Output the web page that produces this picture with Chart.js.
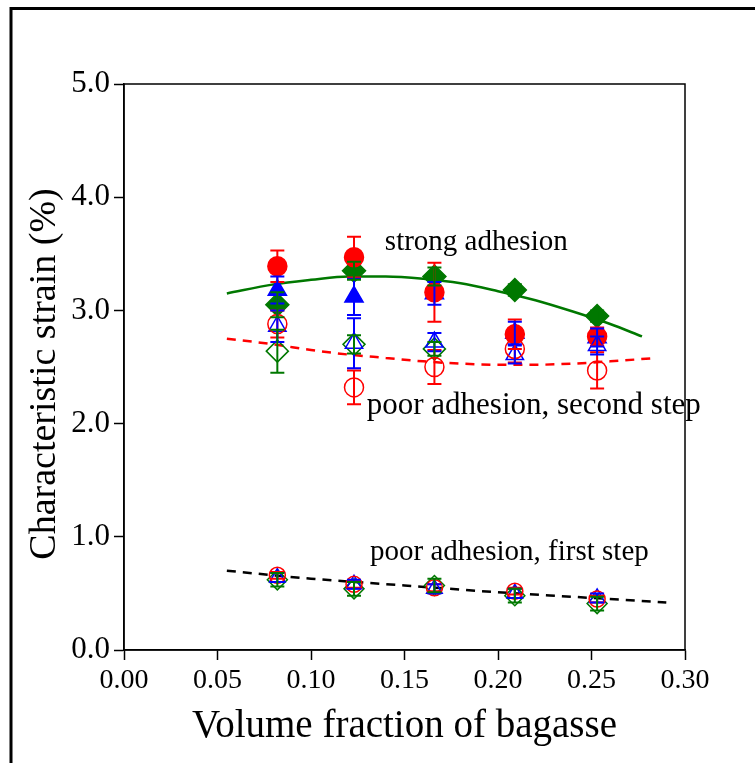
<!DOCTYPE html>
<html>
<head>
<meta charset="utf-8">
<script src="https://cdn.jsdelivr.net/npm/chart.js@4.4.1/dist/chart.umd.min.js"></script>
<style>
  html, body { margin: 0; padding: 0; background: #fff; }
  #wrap { width: 755px; height: 763px; position: relative; }
</style>
</head>
<body>
<div id="wrap"><canvas id="c" width="755" height="763"></canvas></div>
<script>
// ---- data ----
const fractions = [0.082, 0.123, 0.166, 0.209, 0.253];

// strong adhesion (filled markers)
const strongCircle   = [3.39, 3.47, 3.16, 2.79, 2.77];
const strongCircleErr = [0.14, 0.18, 0.26, 0.13, 0.08];
const strongTriangle = [3.18, 3.12, 3.15, 2.80, 2.76];
const strongTriangleErr = [0.12, 0.16, 0.10, 0.10, 0.08];
const strongDiamond  = [3.05, 3.35, 3.30, 3.18, 2.95];
const strongDiamondErr = [0.11, 0.08, 0.08, 0.05, 0.05];

// poor adhesion, second step (open markers)
const secondCircle   = [2.88, 2.32, 2.50, 2.66, 2.47];
const secondCircleErr = [0.12, 0.15, 0.15, 0.12, 0.16];
const secondTriangle = [2.86, 2.71, 2.72, 2.61, 2.69];
const secondTriangleErr = [0.14, 0.22, 0.08, 0.08, 0.08];
const secondDiamond  = [2.64, 2.70, 2.66, null, null];
const secondDiamondErr = [0.19, 0.08, 0.06, null, null];

// poor adhesion, first step (open markers)
const firstCircle    = [0.66, 0.58, 0.55, 0.52, 0.45];
const firstCircleErr = [0.03, 0.03, 0.03, 0.03, 0.03];
const firstTriangle  = [0.64, 0.58, 0.54, 0.50, 0.46];
const firstTriangleErr = [0.04, 0.04, 0.04, 0.04, 0.04];
const firstDiamond   = [0.62, 0.54, 0.57, 0.48, 0.41];
const firstDiamondErr = [0.06, 0.06, 0.06, 0.06, 0.06];

// fitted curves
const strongFitX = [0.055, 0.08, 0.10, 0.12, 0.14, 0.16, 0.18, 0.20, 0.22, 0.24, 0.26, 0.277];
const strongFitY = [3.15, 3.23, 3.27, 3.30, 3.30, 3.28, 3.24, 3.17, 3.09, 2.99, 2.88, 2.77];
const secondFitX = [0.055, 0.08, 0.10, 0.12, 0.14, 0.16, 0.18, 0.20, 0.22, 0.24, 0.26, 0.285];
const secondFitY = [2.75, 2.70, 2.65, 2.61, 2.58, 2.55, 2.53, 2.52, 2.52, 2.53, 2.55, 2.58];
const firstFitX = [0.055, 0.10, 0.15, 0.20, 0.25, 0.29];
const firstFitY = [0.70, 0.63, 0.57, 0.51, 0.46, 0.42];

const xTicks = [0.00, 0.05, 0.10, 0.15, 0.20, 0.25, 0.30];
const yTicks = [0.0, 1.0, 2.0, 3.0, 4.0, 5.0];

const yTitle = 'Characteristic strain (%)';
const annotations = [
  { text: 'strong adhesion', x: 0.1395, y: 3.6 },
  { text: 'poor adhesion, second step', x: 0.1298, y: 2.16 },
  { text: 'poor adhesion, first step', x: 0.1316, y: 0.865 }
];

// ---- build ----
const RED = '#ff0000', BLUE = '#0000ff', GREEN = '#007800';
const FONT = "'Liberation Serif', 'Times New Roman', serif";

function pts(xs, ys) { return xs.map((x, i) => ({ x: x, y: ys[i] })); }

function markerSet(ys, errs, color, style, filled, radius) {
  return {
    type: 'scatter',
    data: pts(fractions, ys),
    errors: errs,
    borderColor: color,
    backgroundColor: filled ? color : 'rgba(0,0,0,0)',
    pointStyle: style,
    pointRadius: radius,
    pointHoverRadius: radius,
    pointBorderWidth: 1.5,
    showLine: false
  };
}
function fitSet(xs, ys, color, dash) {
  return {
    type: 'line',
    data: pts(xs, ys),
    borderColor: color,
    borderWidth: 2.5,
    borderDash: dash,
    pointRadius: 0,
    fill: false,
    tension: 0.4,
    cubicInterpolationMode: 'monotone',
    order: 10
  };
}

const datasets = [
  fitSet(strongFitX, strongFitY, GREEN, []),
  fitSet(secondFitX, secondFitY, RED, [9, 7]),
  fitSet(firstFitX, firstFitY, '#000000', [9, 7]),
  markerSet(secondCircle, secondCircleErr, RED, 'circle', false, 9.5),
  markerSet(secondTriangle, secondTriangleErr, BLUE, 'triangle', false, 10),
  markerSet(secondDiamond, secondDiamondErr, GREEN, 'rectRot', false, 11),
  markerSet(firstCircle, firstCircleErr, RED, 'circle', false, 8),
  markerSet(firstTriangle, firstTriangleErr, BLUE, 'triangle', false, 9),
  markerSet(firstDiamond, firstDiamondErr, GREEN, 'rectRot', false, 10),
  markerSet(strongCircle, strongCircleErr, RED, 'circle', true, 9.5),
  markerSet(strongTriangle, strongTriangleErr, BLUE, 'triangle', true, 10.5),
  markerSet(strongDiamond, strongDiamondErr, GREEN, 'rectRot', true, 11.5)
];

const decorPlugin = {
  id: 'decor',
  afterDatasetsDraw(chart) {
    const ctx = chart.ctx;
    const xs = chart.scales.x, ys = chart.scales.y;
    // error bars
    chart.data.datasets.forEach(ds => {
      if (!ds.errors) return;
      ctx.save();
      ctx.strokeStyle = ds.borderColor;
      ctx.lineWidth = 2;
      ds.data.forEach((p, i) => {
        const e = ds.errors[i];
        if (p.y === null || e === null) return;
        const px = xs.getPixelForValue(p.x);
        const top = ys.getPixelForValue(p.y + e);
        const bot = ys.getPixelForValue(p.y - e);
        ctx.beginPath();
        ctx.moveTo(px, top); ctx.lineTo(px, bot);
        ctx.moveTo(px - 7, top); ctx.lineTo(px + 7, top);
        ctx.moveTo(px - 7, bot); ctx.lineTo(px + 7, bot);
        ctx.stroke();
      });
      ctx.restore();
    });
    // annotations
    ctx.save();
    ctx.fillStyle = '#000';
    ctx.textAlign = 'left';
    ctx.textBaseline = 'middle';
    annotations.forEach((a, i) => {
      ctx.font = (i === 1 ? '31px ' : '29px ') + FONT;
      ctx.fillText(a.text, xs.getPixelForValue(a.x), ys.getPixelForValue(a.y));
    });
    ctx.restore();
  },
  afterDraw(chart) {
    const ctx = chart.ctx;
    const a = chart.chartArea;
    ctx.save();
    ctx.strokeStyle = '#000';
    ctx.lineWidth = 1.5;
    ctx.strokeRect(a.left, a.top, a.right - a.left, a.bottom - a.top);
    // y axis title
    ctx.fillStyle = '#000';
    ctx.font = '38px ' + FONT;
    ctx.textAlign = 'center';
    ctx.textBaseline = 'middle';
    ctx.translate(45, (a.top + a.bottom) / 2 + 7);
    ctx.rotate(-Math.PI / 2);
    ctx.fillText(yTitle, 0, 0);
    ctx.setTransform(1, 0, 0, 1, 0, 0);
    // outer frame
    ctx.lineWidth = 3;
    ctx.beginPath();
    ctx.moveTo(11, 763); ctx.lineTo(11, 8.5); ctx.lineTo(755, 8.5);
    ctx.stroke();
    ctx.restore();
  }
};

new Chart(document.getElementById('c'), {
  data: { datasets: datasets },
  options: {
    responsive: false,
    animation: false,
    events: [],
    layout: { padding: { top: 84, right: 70, left: 0, bottom: 0 } },
    plugins: { legend: { display: false }, tooltip: { enabled: false } },
    scales: {
      x: {
        type: 'linear',
        min: 0, max: 0.30,
        afterFit: s => { s.height = 113; },
        afterBuildTicks: s => { s.ticks = xTicks.map(v => ({ value: v })); },
        ticks: {
          color: '#000', padding: 4, maxRotation: 0,
          font: { family: FONT, size: 28 },
          callback: v => Number(v).toFixed(2)
        },
        grid: { drawOnChartArea: false, drawTicks: true, tickLength: 10, color: '#000', tickWidth: 1.5 },
        border: { display: true, color: '#000', width: 1.5 },
        title: {
          display: true, text: 'Volume fraction of bagasse', color: '#000',
          font: { family: FONT, size: 39, lineHeight: 1 }, padding: { top: 0, bottom: 17 }
        }
      },
      y: {
        type: 'linear',
        min: 0, max: 5,
        afterFit: s => { s.width = 124; },
        afterBuildTicks: s => { s.ticks = yTicks.map(v => ({ value: v })); },
        ticks: {
          color: '#000', padding: 4,
          font: { family: FONT, size: 31 },
          callback: v => Number(v).toFixed(1)
        },
        grid: { drawOnChartArea: false, drawTicks: true, tickLength: 10, color: '#000', tickWidth: 1.5 },
        border: { display: true, color: '#000', width: 1.5 },
        title: { display: false }
      }
    }
  },
  plugins: [decorPlugin]
});
</script>
</body>
</html>
